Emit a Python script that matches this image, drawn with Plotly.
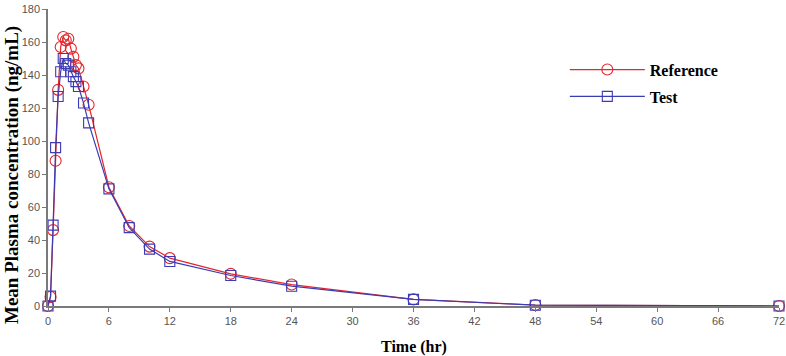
import plotly.graph_objects as go

time_hr = [0, 0.25, 0.5, 0.75, 1, 1.25, 1.5, 1.75, 2, 2.25, 2.5, 2.75, 3, 3.5, 4, 6, 8, 10, 12, 18, 24, 36, 48, 72]
reference_conc = [0, 5.5, 46, 88, 131, 157, 163, 161, 162, 156, 151, 146, 144, 133, 122, 72, 48.5, 36, 29, 19.5, 13, 4, 0.6, 0]
test_conc = [0, 6, 49, 96, 127, 142, 150, 147, 146, 142, 139, 136, 133, 123, 111, 71, 47.5, 34.5, 27, 18.5, 12, 4, 0.5, 0]

x_ticks = list(range(0, 73, 6))
y_ticks = list(range(0, 181, 20))

RED = "#e5262b"
BLUE = "#3b3bb5"

fig = go.Figure()
fig.add_trace(go.Scatter(
    x=time_hr, y=reference_conc, name="Reference", mode="lines+markers", legendgroup="ref",
    line=dict(color=RED, width=1.2),
    marker=dict(symbol="circle-open", size=11, color=RED, line=dict(width=1.1)),
    cliponaxis=False,
))
fig.add_trace(go.Scatter(
    x=time_hr, y=test_conc, name="Test", mode="lines+markers", legendgroup="test",
    line=dict(color=BLUE, width=1.2),
    marker=dict(symbol="square-open", size=10, color=BLUE, line=dict(width=1.1)),
    cliponaxis=False,
))

axis_common = dict(
    showgrid=False, zeroline=False, showline=True, linecolor="#7a7a7a", linewidth=1.5,
    ticks="outside", ticklen=4, tickcolor="#7a7a7a", tickwidth=1, automargin=False,
    tickfont=dict(family="Liberation Sans, Arial", size=11, color="#555555"),
)

fig.update_layout(
    width=786, height=356,
    margin=dict(l=48, r=7, t=9, b=50),
    paper_bgcolor="white", plot_bgcolor="white",
    xaxis=dict(range=[0, 72], tickvals=x_ticks, **axis_common),
    yaxis=dict(range=[0, 180], tickvals=y_ticks, **axis_common),
    legend=dict(
        x=0.707, y=0.853, xanchor="left", yanchor="top",
        font=dict(family="Liberation Serif, Times New Roman", size=16, color="black", weight="bold"),
        itemwidth=75, tracegroupgap=3, bgcolor="rgba(0,0,0,0)",
    ),
    annotations=[
        dict(text="<b>Time (hr)</b>", x=0.5, y=-0.138, xref="paper", yref="paper",
             xanchor="center", yanchor="middle", showarrow=False,
             font=dict(family="Liberation Serif, Times New Roman", size=16, color="black")),
        dict(text="<b>Mean Plasma concentration (ng/mL)</b>", x=0, y=0.441, xref="paper", yref="paper",
             xanchor="center", yanchor="middle", xshift=-36, showarrow=False, textangle=-90,
             font=dict(family="Liberation Serif, Times New Roman", size=19, color="black")),
    ],
)
fig.write_html("out.html", config={"displayModeBar": False},
               post_script="document.body.style.margin='0';document.body.style.overflow='hidden';")
